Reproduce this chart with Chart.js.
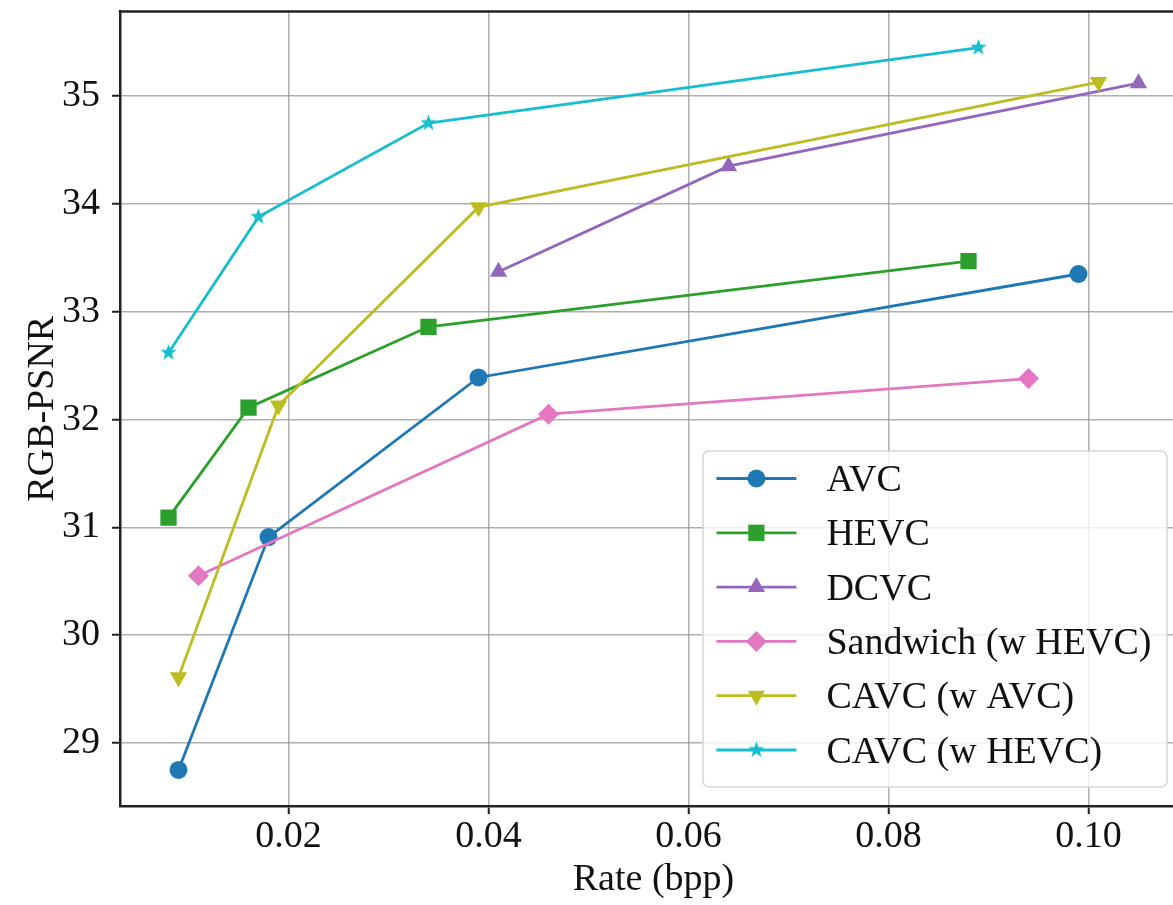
<!DOCTYPE html>
<html>
<head>
<meta charset="utf-8">
<script src="https://cdn.jsdelivr.net/npm/chart.js@4.4.0/dist/chart.umd.min.js"></script>
<style>
html, body { margin: 0; padding: 0; background: #fff; overflow: hidden; }
#wrap { width: 1210px; height: 905px; position: relative; }
</style>
</head>
<body>
<div id="wrap"><canvas id="myChart" width="1210" height="905"></canvas></div>
<script>
// values
const seriesNames = ["AVC", "HEVC", "DCVC", "Sandwich (w HEVC)", "CAVC (w AVC)", "CAVC (w HEVC)"];
const avcRate = [0.009, 0.018, 0.039, 0.099];
const avcPsnr = [28.75, 30.91, 32.39, 33.35];
const hevcRate = [0.008, 0.016, 0.034, 0.088];
const hevcPsnr = [31.09, 32.11, 32.86, 33.47];
const dcvcRate = [0.041, 0.064, 0.105];
const dcvcPsnr = [33.37, 34.35, 35.12];
const sandwichRate = [0.011, 0.046, 0.094];
const sandwichPsnr = [30.55, 32.05, 32.38];
const cavcAvcRate = [0.009, 0.019, 0.039, 0.101];
const cavcAvcPsnr = [29.61, 32.13, 33.97, 35.13];
const cavcHevcRate = [0.008, 0.017, 0.034, 0.089];
const cavcHevcPsnr = [32.62, 33.88, 34.75, 35.45];

const xTickValues = [0.02, 0.04, 0.06, 0.08, 0.10];
const xTickLabels = ["0.02", "0.04", "0.06", "0.08", "0.10"];
const yTickValues = [29, 30, 31, 32, 33, 34, 35];
const yTickLabels = ["29", "30", "31", "32", "33", "34", "35"];

const colors = ["#1f77b4", "#2ca02c", "#9467bd", "#e377c2", "#bcbd22", "#17becf"];
const serif = "'Liberation Serif', 'Times New Roman', serif";
const tickFont = { family: serif, size: 38 };
const legendFontSize = 38;

const toPoints = (xs, ys) => xs.map((x, i) => ({ x: x, y: ys[i] }));

// filled 5-point star like matplotlib '*'
const makeStar = (color, r) => {
  const c = document.createElement("canvas");
  const s = Math.ceil(r * 2 + 4);
  c.width = s; c.height = s;
  const g = c.getContext("2d");
  g.beginPath();
  for (let i = 0; i < 10; i++) {
    const rr = i % 2 === 0 ? r : r * 0.42;
    const a = -Math.PI / 2 + i * Math.PI / 5;
    g.lineTo(s / 2 + rr * Math.cos(a), s / 2 + rr * Math.sin(a));
  }
  g.closePath();
  g.fillStyle = color;
  g.fill();
  return c;
};

const markers = [
  { style: "circle", radius: 9, rotation: 0 },
  { style: "rect", radius: 11.5, rotation: 0 },
  { style: "triangle", radius: 10, rotation: 0 },
  { style: "rectRot", radius: 10.5, rotation: 0 },
  { style: "triangle", radius: 10, rotation: 180 },
  { style: makeStar(colors[5], 8.5), radius: 8.5, rotation: 0 }
];

const allPoints = [
  toPoints(avcRate, avcPsnr),
  toPoints(hevcRate, hevcPsnr),
  toPoints(dcvcRate, dcvcPsnr),
  toPoints(sandwichRate, sandwichPsnr),
  toPoints(cavcAvcRate, cavcAvcPsnr),
  toPoints(cavcHevcRate, cavcHevcPsnr)
];

const datasets = allPoints.map((pts, i) => ({
  label: seriesNames[i],
  data: pts,
  borderColor: colors[i],
  backgroundColor: colors[i],
  borderWidth: 2.8,
  pointStyle: markers[i].style,
  pointRadius: markers[i].radius,
  pointRotation: markers[i].rotation,
  pointBackgroundColor: colors[i],
  pointBorderColor: colors[i],
  pointBorderWidth: 0,
  tension: 0,
  fill: false,
  order: seriesNames.length - i
}));

// matplotlib style 5% margins
const xMin = 0.00315, xMax = 0.10985;
const yMin = 28.415, yMax = 35.785;
// right spine sits just past the visible window, as in the figure
const areaRight = 1187;

const topSpine = {
  id: "topSpine",
  afterDraw(chart) {
    const { ctx, chartArea } = chart;
    ctx.save();
    ctx.strokeStyle = "#222";
    ctx.lineWidth = 2.5;
    ctx.beginPath();
    ctx.moveTo(chartArea.left - 1.25, chartArea.top);
    ctx.lineTo(chartArea.right, chartArea.top);
    ctx.stroke();
    ctx.restore();
  }
};

const legendBox = {
  id: "legendBox",
  afterDraw(chart) {
    const { ctx, chartArea } = chart;
    const boxRight = chartArea.right - 20;
    const boxBottom = chartArea.bottom - 19;
    const boxW = 464, boxH = 336;
    const left = boxRight - boxW, top = boxBottom - boxH;
    ctx.save();
    ctx.beginPath();
    ctx.roundRect(left, top, boxW, boxH, 6);
    ctx.fillStyle = "rgba(255,255,255,0.8)";
    ctx.fill();
    ctx.strokeStyle = "#d6d6d6";
    ctx.lineWidth = 1.5;
    ctx.stroke();
    ctx.font = legendFontSize + "px " + serif;
    ctx.textBaseline = "alphabetic";
    ctx.textAlign = "left";
    seriesNames.forEach((name, i) => {
      const y = top + 27.5 + i * 54.3;
      ctx.strokeStyle = colors[i];
      ctx.lineWidth = 2.8;
      ctx.beginPath();
      ctx.moveTo(left + 13.4, y);
      ctx.lineTo(left + 93.4, y);
      ctx.stroke();
      ctx.fillStyle = colors[i];
      Chart.helpers.drawPoint(ctx, {
        pointStyle: markers[i].style,
        radius: markers[i].radius,
        rotation: markers[i].rotation,
        borderWidth: 0
      }, left + 53.4, y);
      ctx.fillStyle = "#111";
      ctx.fillText(name, left + 123.4, y + legendFontSize * 0.331);
    });
    ctx.restore();
  }
};

const gridOpts = {
  color: "rgba(150,150,150,0.75)",
  lineWidth: 1.5,
  drawTicks: true,
  tickLength: 8,
  tickColor: "#222",
  tickWidth: 2
};

const ctx = document.getElementById("myChart");
const myChart = new Chart(ctx, {
  type: "line",
  data: { datasets: datasets },
  options: {
    responsive: false,
    animation: false,
    layout: { padding: { top: 9, right: 23, left: 0, bottom: 0 } },
    plugins: { legend: { display: false }, tooltip: { enabled: false } },
    scales: {
      x: {
        type: "linear",
        min: xMin,
        max: xMax,
        afterFit: (s) => { s.height = 99; s.paddingLeft = 0; s.paddingRight = 0; },
        afterBuildTicks: (s) => { s.ticks = xTickValues.map((v) => ({ value: v })); },
        ticks: {
          callback: (v, i) => xTickLabels[i],
          font: tickFont,
          color: "#111",
          padding: 0,
          maxRotation: 0,
          autoSkip: false
        },
        grid: gridOpts,
        border: { display: true, color: "#222", width: 2.5 },
        title: {
          display: true,
          text: "Rate (bpp)",
          font: { family: serif, size: 38 },
          color: "#111",
          padding: { top: 0, bottom: 2 }
        }
      },
      y: {
        type: "linear",
        min: yMin,
        max: yMax,
        afterFit: (s) => { s.width = 120; s.paddingTop = 0; s.paddingBottom = 0; },
        afterBuildTicks: (s) => { s.ticks = yTickValues.map((v) => ({ value: v })); },
        ticks: {
          callback: (v, i) => yTickLabels[i],
          font: tickFont,
          color: "#111",
          padding: 12,
          autoSkip: false
        },
        grid: gridOpts,
        border: { display: true, color: "#222", width: 2.5 },
        title: {
          display: true,
          text: "RGB-PSNR",
          font: { family: serif, size: 38 },
          color: "#111",
          padding: { top: 20, bottom: 0 }
        }
      }
    }
  },
  plugins: [topSpine, legendBox]
});

// nudge the right padding so the plot area ends where the figure's does
const diff = myChart.chartArea.right - areaRight;
if (Math.abs(diff) > 0.5) {
  myChart.options.layout.padding.right += diff;
  myChart.update();
}
</script>
</body>
</html>
